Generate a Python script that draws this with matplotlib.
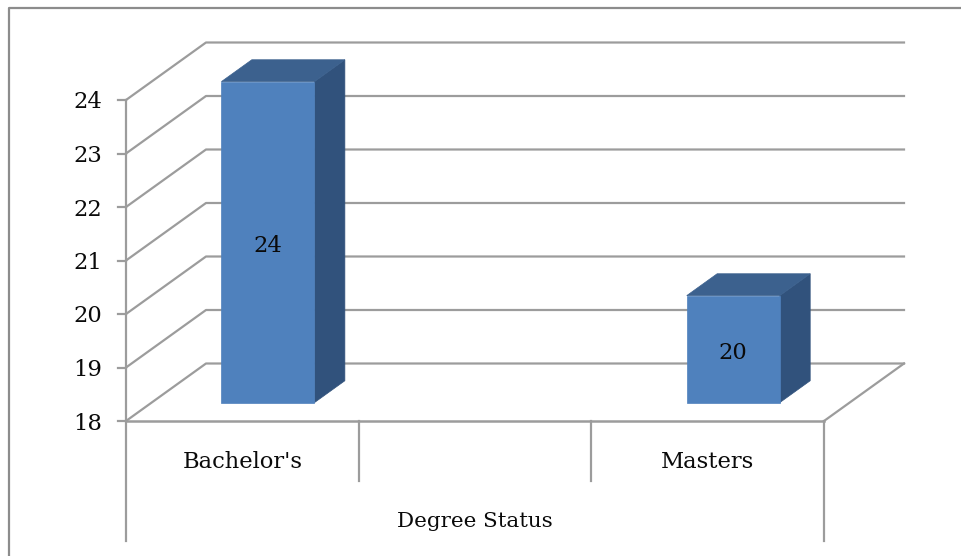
# degree status 3d-look column chart
import matplotlib
matplotlib.use('Agg')
import matplotlib.pyplot as plt
from matplotlib.lines import Line2D
from matplotlib.patches import Polygon

categories = ["Bachelor's", "", "Masters"]
bar_cats = [0, 2]
bar_values = [24, 20]
y_ticks = [18, 19, 20, 21, 22, 23, 24]
axis_title = 'Degree Status'

W, H = 961, 556
GRAY = '#9c9c9c'
FRONT = '#4f81bd'
TOP = '#3c618e'
SIDE = '#31527c'
INK = '#0a0a0a'
FS = 16.3

plt.rcParams['font.family'] = ['DejaVu Serif']

fig = plt.figure(figsize=(W / 100, H / 100), dpi=100, facecolor='white')
ax = fig.add_axes([126 / W, 1 - 421 / H, 698 / W, 321 / H])
ax.set_xlim(0, len(categories))
ax.set_ylim(y_ticks[0], y_ticks[-1])
ax.axis('off')

px_x = 698 / 3
px_y = 321 / 6

# depth of the floor in data units
dx = 80 / px_x
dy = 57.5 / px_y
base = y_ticks[0]
x_end = len(categories)


def shear(x, y, d):
    return x + dx * d, y + dy * d


# side wall and back wall gridlines
for t in y_ticks:
    x0, y0 = shear(0, t, 1)
    x1, y1 = shear(x_end, t, 1)
    ax.plot([0, x0, x1], [t, y0, y1], color=GRAY, lw=1.6, clip_on=False, zorder=1)
    ax.plot([-8 / px_x, 0], [t, t], color=GRAY, lw=1.6, clip_on=False, zorder=2)
    ax.text(-24 / px_x, t, str(t), ha='right', va='center_baseline', fontsize=FS,
            color=INK, clip_on=False)

# floor edge on the right
fx, fy = shear(x_end, base, 1)
ax.plot([x_end, fx], [base, fy], color=GRAY, lw=1.6, clip_on=False, zorder=1)

# value axis, front axis and category dividers
ax.plot([0, 0], [base, y_ticks[-1]], color=GRAY, lw=1.6, clip_on=False, zorder=2)
ax.plot([0, x_end], [base, base], color=GRAY, lw=1.8, clip_on=False, zorder=2)
for i in range(len(categories) + 1):
    outer = i in (0, len(categories))
    low = base - (120 if outer else 60) / px_y
    ax.plot([i, i], [base, low], color=GRAY, lw=1.6, clip_on=False, zorder=2)

# bars as three faces
d_front, d_back = 0.32, 0.70
half = 0.2
for c, v in zip(bar_cats, bar_values):
    cx = c + 0.5
    l, r = cx - half, cx + half
    front = [shear(l, base, d_front), shear(r, base, d_front), shear(r, v, d_front), shear(l, v, d_front)]
    side = [shear(r, base, d_front), shear(r, base, d_back), shear(r, v, d_back), shear(r, v, d_front)]
    top = [shear(l, v, d_front), shear(r, v, d_front), shear(r, v, d_back), shear(l, v, d_back)]
    ax.add_patch(Polygon(side, closed=True, fc=SIDE, ec=SIDE, lw=0.5, zorder=3, clip_on=False))
    ax.add_patch(Polygon(top, closed=True, fc=TOP, ec=TOP, lw=0.5, zorder=3, clip_on=False))
    ax.add_patch(Polygon(front, closed=True, fc=FRONT, ec=FRONT, lw=0.5, zorder=4, clip_on=False))
    tx, ty = shear(cx, (base + v) / 2, d_front)
    ax.text(tx, ty - 1.5 / px_y, str(v), ha='center', va='center_baseline', fontsize=FS,
            color=INK, zorder=5)

# category labels
for i, name in enumerate(categories):
    ax.text(i + 0.5, base - 38.5 / px_y, name, ha='center', va='center_baseline',
            fontsize=FS, color=INK, clip_on=False)
ax.text(x_end / 2, base - 98.5 / px_y, axis_title, ha='center', va='center_baseline',
        fontsize=15.4, color=INK, clip_on=False)

# outer frame of the pasted chart
fig.add_artist(Line2D([9 / W, 9 / W, 1], [0, 1 - 8 / H, 1 - 8 / H], color='#8c8c8c', lw=1.6))

fig.savefig('out.png', dpi=100)
